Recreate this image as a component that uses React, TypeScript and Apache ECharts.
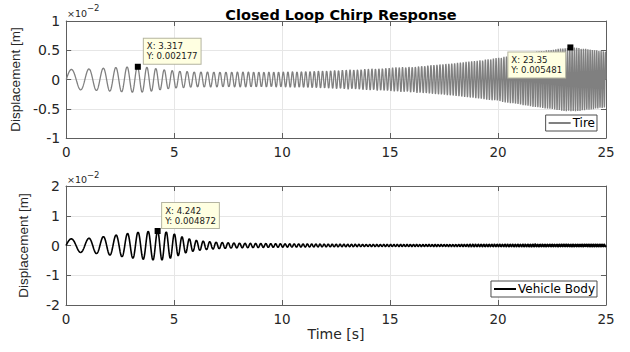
import React, { useEffect, useRef } from "react";
import * as echarts from "echarts";

// ---- Data ----
const titleText = "Closed Loop Chirp Response";
const xTicks = [0, 5, 10, 15, 20, 25]; // s
const tireTicks = [-0.01, -0.005, 0, 0.005, 0.01]; // m (labels shown ×10^-2)
const bodyTicks = [-0.02, -0.01, 0, 0.01, 0.02]; // m

// chirp sweep read from peak spacing (1 Hz at t=0 rising to 10 Hz at t=25 s)
const chirpStartHz = 1;
const chirpEndHz = 10;
const duration = 25;

// amplitude envelopes (m)
const envelopeTimes = [0, 1, 2, 2.5, 3, 3.5, 4, 4.5, 5, 5.5, 6, 6.5, 7, 8, 10, 12, 14, 15, 16, 17, 18, 19, 20, 21, 22, 23, 23.5, 24, 25];
const tireEnvelope = [0.0017, 0.0018, 0.002, 0.0021, 0.0022, 0.0022, 0.002, 0.0017, 0.0015, 0.0014, 0.0013, 0.0013, 0.0013, 0.0013, 0.0013, 0.0015, 0.0018, 0.002, 0.0022, 0.0025, 0.0028, 0.0032, 0.0037, 0.0043, 0.0049, 0.0054, 0.0055, 0.0053, 0.0048];
const bodyEnvelope = [0.0022, 0.0024, 0.0032, 0.0037, 0.0042, 0.0046, 0.0049, 0.0049, 0.004, 0.0026, 0.0018, 0.0014, 0.0011, 0.0008, 0.0006, 0.0005, 0.0004, 0.0004, 0.0004, 0.0004, 0.0004, 0.0005, 0.0005, 0.0005, 0.0006, 0.0006, 0.0006, 0.0006, 0.0006];

// phase lag (cycles) of the body peaks relative to the sweep, read from peak positions
const bodyLagTimes = [0, 2, 3.3, 4.24, 5, 7, 25];
const bodyLagCycles = [0, 0.02, 0.08, 0.23, 0.3, 0.4, 0.45];

// data tips [x, y]
const tireTips = [[3.317, 0.002177], [23.35, 0.005481]];
const bodyTips = [[4.242, 0.004872]];

const seriesNames = ["Tire", "Vehicle Body"];

// ---- helpers ----
function interp(xs: number[], ys: number[], t: number) {
  if (t <= xs[0]) return ys[0];
  for (let i = 1; i < xs.length; i++) {
    if (t <= xs[i]) {
      const f = (t - xs[i - 1]) / (xs[i] - xs[i - 1]);
      return ys[i - 1] + f * (ys[i] - ys[i - 1]);
    }
  }
  return ys[ys.length - 1];
}

const sampleStep = 0.0025;
function buildWave(env: number[], lagT?: number[], lagC?: number[]) {
  const out: number[][] = [];
  const n = Math.round(duration / sampleStep);
  const k = (chirpEndHz - chirpStartHz) / (2 * duration);
  for (let i = 0; i <= n; i++) {
    const t = i * sampleStep;
    const lag = lagT && lagC ? interp(lagT, lagC, t) : 0;
    const cyc = chirpStartHz * t + k * t * t - lag;
    out.push([t, interp(envelopeTimes, env, t) * Math.sin(2 * Math.PI * cyc)]);
  }
  return out;
}

const FONT = "DejaVu Sans";
const axisColor = "#5e5e5e";
const labelColor = "#262626";
const gridColor = "#e6e6e6";

function fmtE2(v: number) {
  return String(parseFloat((v * 100).toFixed(3)));
}

function xAxisPair(gridIndex: number, withName: boolean) {
  return [
    {
      type: "value",
      gridIndex,
      min: xTicks[0],
      max: xTicks[xTicks.length - 1],
      interval: xTicks[1] - xTicks[0],
      axisLine: { show: true, onZero: false, lineStyle: { color: axisColor, width: 1 } },
      axisTick: { show: true, inside: true, length: 5, lineStyle: { color: axisColor } },
      axisLabel: { color: labelColor, fontSize: 13.5, fontFamily: FONT, margin: 7 },
      splitLine: { show: true, lineStyle: { color: gridColor, width: 1 } },
      name: withName ? "Time [s]" : "",
      nameLocation: "middle",
      nameGap: 21,
      nameTextStyle: { color: labelColor, fontSize: 14, fontFamily: FONT },
    },
    {
      type: "value",
      gridIndex,
      position: "top",
      min: xTicks[0],
      max: xTicks[xTicks.length - 1],
      interval: xTicks[1] - xTicks[0],
      axisLine: { show: true, onZero: false, lineStyle: { color: axisColor, width: 1 } },
      axisTick: { show: true, inside: true, length: 5, lineStyle: { color: axisColor } },
      axisLabel: { show: false },
      splitLine: { show: false },
    },
  ];
}

function yAxisPair(gridIndex: number, ticks: number[]) {
  const base = {
    type: "value",
    gridIndex,
    min: ticks[0],
    max: ticks[ticks.length - 1],
    interval: ticks[1] - ticks[0],
  };
  return [
    {
      ...base,
      axisLine: { show: true, onZero: false, lineStyle: { color: axisColor, width: 1 } },
      axisTick: { show: true, inside: true, length: 5, lineStyle: { color: axisColor } },
      axisLabel: { color: labelColor, fontSize: 14, fontFamily: FONT, margin: 6, formatter: fmtE2 },
      splitLine: { show: true, lineStyle: { color: gridColor, width: 1 } },
      name: "Displacement [m]",
      nameLocation: "middle",
      nameRotate: 90,
      nameGap: 36,
      nameTextStyle: { color: labelColor, fontSize: 13.5, fontFamily: "Liberation Sans" },
    },
    {
      ...base,
      position: "right",
      axisLine: { show: true, onZero: false, lineStyle: { color: axisColor, width: 1 } },
      axisTick: { show: true, inside: true, length: 5, lineStyle: { color: axisColor } },
      axisLabel: { show: false },
      splitLine: { show: false },
    },
  ];
}

function tipData(tips: number[][], offsets: number[][]) {
  return tips.map((p, i) => ({
    coord: p,
    symbol: "rect",
    symbolSize: 6,
    itemStyle: { color: "#000" },
    label: {
      show: true,
      formatter: `X: ${p[0]}\nY: ${p[1]}`,
      position: offsets[i],
      align: "left",
      verticalAlign: "top",
      backgroundColor: "#ffffe1",
      borderColor: "#b4b4a0",
      borderWidth: 1,
      padding: [2.5, 3],
      fontSize: 8.6,
      lineHeight: 10,
      color: "#1a1a1a",
      fontFamily: FONT,
    },
  }));
}

function legendBox(name: string, top: number) {
  return {
    data: [name],
    right: 33,
    top,
    orient: "horizontal",
    backgroundColor: "#ffffff",
    borderColor: "#4d4d4d",
    borderWidth: 1,
    borderRadius: 0,
    padding: [1, 2, 1, 2],
    itemWidth: 22,
    itemHeight: 14,
    itemGap: 0,
    selectedMode: false,
    itemStyle: { opacity: 0 },
    textStyle: { fontSize: 12, fontFamily: FONT, color: "#000", lineHeight: 14, padding: [0, 0, 0, -3] },
  };
}

export default function App() {
  const ref = useRef<HTMLDivElement>(null);
  useEffect(() => {
    if (!ref.current) return;
    const chart = echarts.init(ref.current, undefined, { renderer: "svg" });
    const tireData = buildWave(tireEnvelope);
    const bodyData = buildWave(bodyEnvelope, bodyLagTimes, bodyLagCycles);
    chart.setOption({
      animation: false,
      backgroundColor: "#ffffff",
      title: {
        text: titleText,
        left: 336,
        top: 2,
        textAlign: "center",
        textStyle: { fontSize: 14.5, fontWeight: "bold", fontFamily: FONT, color: "#000" },
      },
      grid: [
        { left: 66, top: 21, width: 540, height: 117, containLabel: false },
        { left: 66, top: 186, width: 540, height: 119, containLabel: false },
      ],
      xAxis: [...xAxisPair(0, false), ...xAxisPair(1, true)],
      yAxis: [...yAxisPair(0, tireTicks), ...yAxisPair(1, bodyTicks)],
      legend: [legendBox(seriesNames[0], 115), legendBox(seriesNames[1], 281)],
      graphic: [
        { type: "text", left: 67, top: 8, style: { text: "×10", fontSize: 9.5, fontFamily: FONT, fill: labelColor } },
        { type: "text", left: 87, top: 3.5, style: { text: "−2", fontSize: 8.5, fontFamily: FONT, fill: labelColor } },
        { type: "text", left: 67, top: 174.5, style: { text: "×10", fontSize: 9.5, fontFamily: FONT, fill: labelColor } },
        { type: "text", left: 87, top: 170, style: { text: "−2", fontSize: 8.5, fontFamily: FONT, fill: labelColor } },
      ],
      series: [
        {
          name: seriesNames[0],
          type: "line",
          xAxisIndex: 0,
          yAxisIndex: 0,
          data: tireData,
          symbol: "none",
          showSymbol: false,
          lineStyle: { color: "#808080", width: 1.3 },
          itemStyle: { color: "#808080" },
          silent: true,
          markPoint: { silent: true, data: tipData(tireTips, [[9, -25], [-59, 8]]) },
        },
        {
          name: seriesNames[1],
          type: "line",
          xAxisIndex: 2,
          yAxisIndex: 2,
          data: bodyData,
          symbol: "none",
          showSymbol: false,
          lineStyle: { color: "#000000", width: 1.6 },
          itemStyle: { color: "#000000" },
          silent: true,
          markPoint: { silent: true, data: tipData(bodyTips, [[7.5, -25]]) },
        },
      ],
    });
    return () => chart.dispose();
  }, []);
  return (
    <div
      ref={ref}
      style={{ position: "fixed", left: 0, top: 0, width: 630, height: 352, background: "#fff" }}
    />
  );
}
